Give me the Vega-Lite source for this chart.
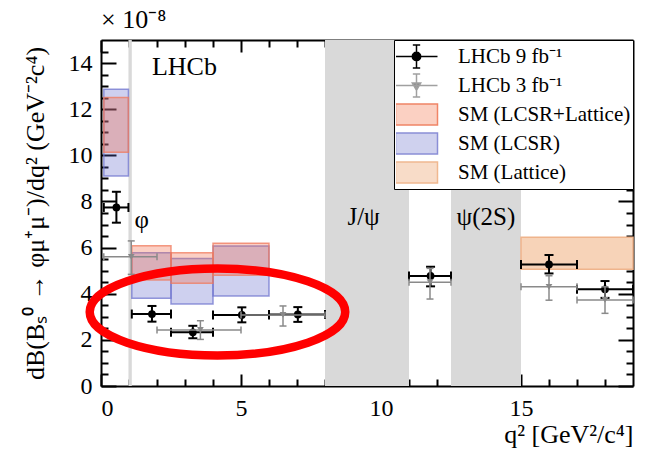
{
  "$schema": "https://vega.github.io/schema/vega-lite/v6.json",
  "width": 532,
  "height": 346,
  "autosize": {"type": "none"},
  "padding": {"left": 101, "top": 40, "right": 13, "bottom": 76},
  "background": "white",
  "title": {"text": "× 10⁻⁸", "anchor": "start", "frame": "group", "fontSize": 26, "font": "Liberation Serif", "fontWeight": "normal", "color": "black", "offset": 6},
  "config": {
    "view": {"stroke": null},
    "font": "Liberation Serif",
    "axis": {"grid": false, "zindex": 1, "labelFont": "Liberation Serif", "titleFont": "Liberation Serif", "labelFontSize": 24, "titleFontSize": 26, "titleFontWeight": "normal", "labelColor": "black", "titleColor": "black", "tickColor": "black", "domainColor": "black", "domainWidth": 2, "tickWidth": 2},
    "legend": {"orient": "top-right", "offset": 0, "padding": 2, "strokeColor": "black", "fillColor": "white", "labelFont": "Liberation Serif", "labelFontSize": 21, "labelColor": "black", "symbolSize": 441, "symbolStrokeWidth": 1.5, "symbolOffset": 9, "labelOffset": 30, "rowPadding": 0, "clipHeight": 29, "labelLimit": 300}
  },
  "datasets": {
    "veto": [{"lo": 0.98, "hi": 1.1}, {"lo": 8.0, "hi": 11.0}, {"lo": 12.5, "hi": 15.0}],
    "lcsr": [
      {"lo": 0.1, "hi": 0.98, "ylo": 9.1, "yhi": 12.86},
      {"lo": 1.1, "hi": 2.5, "ylo": 3.8, "yhi": 5.78},
      {"lo": 2.5, "hi": 4.0, "ylo": 3.55, "yhi": 5.53},
      {"lo": 4.0, "hi": 6.0, "ylo": 3.9, "yhi": 6.07}
    ],
    "combined": [
      {"lo": 0.1, "hi": 0.98, "ylo": 10.13, "yhi": 12.51},
      {"lo": 1.1, "hi": 2.5, "ylo": 4.6, "yhi": 6.08},
      {"lo": 2.5, "hi": 4.0, "ylo": 4.45, "yhi": 5.78},
      {"lo": 4.0, "hi": 6.0, "ylo": 4.8, "yhi": 6.19}
    ],
    "lattice": [{"lo": 15.0, "hi": 19.0, "ylo": 5.06, "yhi": 6.45}],
    "lhcb9": [
      {"lo": 0.1, "hi": 0.98, "x": 0.55, "y": 7.74, "ylo": 7.08, "yhi": 8.42},
      {"lo": 1.1, "hi": 2.5, "x": 1.82, "y": 3.12, "ylo": 2.79, "yhi": 3.47},
      {"lo": 2.5, "hi": 4.0, "x": 3.28, "y": 2.33, "ylo": 2.07, "yhi": 2.61},
      {"lo": 4.0, "hi": 6.0, "x": 5.03, "y": 3.08, "ylo": 2.76, "yhi": 3.41},
      {"lo": 6.0, "hi": 8.0, "x": 7.03, "y": 3.1, "ylo": 2.78, "yhi": 3.42},
      {"lo": 11.0, "hi": 12.5, "x": 11.77, "y": 4.77, "ylo": 4.32, "yhi": 5.17},
      {"lo": 15.0, "hi": 17.0, "x": 16.0, "y": 5.27, "ylo": 4.88, "yhi": 5.68},
      {"lo": 17.0, "hi": 19.0, "x": 18.0, "y": 4.19, "ylo": 3.82, "yhi": 4.55}
    ],
    "lhcb3": [
      {"lo": 0.1, "hi": 2.0, "x": 1.08, "y": 5.6, "ylo": 4.84, "yhi": 6.29},
      {"lo": 2.0, "hi": 5.0, "x": 3.55, "y": 2.43, "ylo": 2.02, "yhi": 2.83},
      {"lo": 5.0, "hi": 8.0, "x": 6.5, "y": 3.08, "ylo": 2.6, "yhi": 3.47},
      {"lo": 11.0, "hi": 12.5, "x": 11.75, "y": 4.5, "ylo": 3.77, "yhi": 5.1},
      {"lo": 15.0, "hi": 17.0, "x": 16.0, "y": 4.3, "ylo": 3.72, "yhi": 4.78},
      {"lo": 17.0, "hi": 19.0, "x": 18.0, "y": 3.73, "ylo": 3.15, "yhi": 4.3}
    ],
    "experiment": [{"x": 1.82, "y": 13.5, "text": "LHCb"}],
    "resonances": [
      {"x": 1.2, "y": 6.85, "text": "φ"},
      {"x": 8.8, "y": 6.98, "text": "J/ψ"},
      {"x": 12.7, "y": 6.98, "text": "ψ(2S)"}
    ],
    "annotation": [{"x": 4.16, "y": 3.21}],
    "legendkeys": [
      {"series": "LHCb 9 fb⁻¹"},
      {"series": "LHCb 3 fb⁻¹"},
      {"series": "SM (LCSR+Lattice)"},
      {"series": "SM (LCSR)"},
      {"series": "SM (Lattice)"}
    ]
  },
  "resolve": {"axis": {"x": "independent", "y": "independent"}},
  "layer": [
    {
      "data": {"name": "veto"},
      "mark": {"type": "rect", "color": "#d9d9d9"},
      "encoding": {
        "x": {"field": "lo", "type": "quantitative", "scale": {"domain": [0, 19], "nice": false, "zero": false},
          "axis": {"orient": "bottom", "values": [0, 5, 10, 15], "tickSize": -12, "labelPadding": 22, "format": "d", "title": "q² [GeV²/c⁴]", "titleAnchor": "end", "titlePadding": 1, "domain": true}},
        "x2": {"field": "hi"},
        "y": {"datum": 0, "type": "quantitative", "scale": {"domain": [0, 15], "nice": false, "zero": false},
          "axis": {"orient": "left", "values": [0, 2, 4, 6, 8, 10, 12, 14], "tickSize": -15, "labelPadding": 24, "format": "d", "title": "dB(Bₛ⁰ → φμ⁺μ⁻)/dq² (GeV⁻²c⁴)", "titlePadding": 20, "domain": true}},
        "y2": {"datum": 15}
      }
    },
    {
      "data": {"name": "lcsr"},
      "mark": {"type": "rect", "fill": "#5c63c9", "fillOpacity": 0.3, "stroke": "#7075cf", "strokeOpacity": 0.75, "strokeWidth": 1.5},
      "encoding": {
        "x": {"field": "lo", "type": "quantitative", "scale": {"domain": [0, 19], "nice": false, "zero": false},
          "axis": {"orient": "bottom", "values": [1, 2, 3, 4, 6, 7, 8, 9, 11, 12, 13, 14, 16, 17, 18], "tickSize": -7, "labels": false, "domain": false, "title": null}},
        "x2": {"field": "hi"},
        "y": {"field": "ylo", "type": "quantitative", "scale": {"domain": [0, 15], "nice": false, "zero": false},
          "axis": {"orient": "left", "values": [0.5, 1, 1.5, 2.5, 3, 3.5, 4.5, 5, 5.5, 6.5, 7, 7.5, 8.5, 9, 9.5, 10.5, 11, 11.5, 12.5, 13, 13.5, 14.5], "tickSize": -7, "labels": false, "domain": false, "title": null}},
        "y2": {"field": "yhi"}
      }
    },
    {
      "data": {"name": "combined"},
      "mark": {"type": "rect", "fill": "#f26a46", "fillOpacity": 0.32, "stroke": "#f07a5c", "strokeOpacity": 0.75, "strokeWidth": 1.5},
      "encoding": {
        "x": {"field": "lo", "type": "quantitative", "scale": {"domain": [0, 19], "nice": false, "zero": false},
          "axis": {"orient": "top", "values": [0, 5, 10, 15], "tickSize": -12, "labels": false, "domain": true, "title": null}},
        "x2": {"field": "hi"},
        "y": {"field": "ylo", "type": "quantitative", "scale": {"domain": [0, 15], "nice": false, "zero": false},
          "axis": {"orient": "right", "values": [0, 2, 4, 6, 8, 10, 12, 14], "tickSize": -15, "labels": false, "domain": true, "title": null}},
        "y2": {"field": "yhi"}
      }
    },
    {
      "data": {"name": "lattice"},
      "mark": {"type": "rect", "fill": "#f7d3b8", "stroke": "#efb48c", "strokeWidth": 1.5},
      "encoding": {
        "x": {"field": "lo", "type": "quantitative", "scale": {"domain": [0, 19], "nice": false, "zero": false},
          "axis": {"orient": "top", "values": [1, 2, 3, 4, 6, 7, 8, 9, 11, 12, 13, 14, 16, 17, 18], "tickSize": -7, "labels": false, "domain": false, "title": null}},
        "x2": {"field": "hi"},
        "y": {"field": "ylo", "type": "quantitative", "scale": {"domain": [0, 15], "nice": false, "zero": false},
          "axis": {"orient": "right", "values": [0.5, 1, 1.5, 2.5, 3, 3.5, 4.5, 5, 5.5, 6.5, 7, 7.5, 8.5, 9, 9.5, 10.5, 11, 11.5, 12.5, 13, 13.5, 14.5], "tickSize": -7, "labels": false, "domain": false, "title": null}},
        "y2": {"field": "yhi"}
      }
    },
    {
      "data": {"name": "lhcb9"},
      "mark": {"type": "rule", "color": "black", "strokeWidth": 2},
      "encoding": {
        "x": {"field": "lo", "type": "quantitative", "axis": null},
        "x2": {"field": "hi"},
        "y": {"field": "y", "type": "quantitative", "axis": null}
      }
    },
    {
      "data": {"name": "lhcb9"},
      "mark": {"type": "rule", "color": "black", "strokeWidth": 2},
      "encoding": {
        "x": {"field": "x", "type": "quantitative", "axis": null},
        "y": {"field": "ylo", "type": "quantitative", "axis": null},
        "y2": {"field": "yhi"}
      }
    },
    {
      "data": {"name": "lhcb9"},
      "mark": {"type": "tick", "orient": "vertical", "color": "black", "size": 9, "thickness": 2, "opacity": 1},
      "encoding": {"x": {"field": "lo", "type": "quantitative", "axis": null}, "y": {"field": "y", "type": "quantitative", "axis": null}}
    },
    {
      "data": {"name": "lhcb9"},
      "mark": {"type": "tick", "orient": "vertical", "color": "black", "size": 9, "thickness": 2, "opacity": 1},
      "encoding": {"x": {"field": "hi", "type": "quantitative", "axis": null}, "y": {"field": "y", "type": "quantitative", "axis": null}}
    },
    {
      "data": {"name": "lhcb9"},
      "mark": {"type": "tick", "orient": "horizontal", "color": "black", "size": 9, "thickness": 2, "opacity": 1},
      "encoding": {"x": {"field": "x", "type": "quantitative", "axis": null}, "y": {"field": "ylo", "type": "quantitative", "axis": null}}
    },
    {
      "data": {"name": "lhcb9"},
      "mark": {"type": "tick", "orient": "horizontal", "color": "black", "size": 9, "thickness": 2, "opacity": 1},
      "encoding": {"x": {"field": "x", "type": "quantitative", "axis": null}, "y": {"field": "yhi", "type": "quantitative", "axis": null}}
    },
    {
      "data": {"name": "lhcb9"},
      "mark": {"type": "point", "shape": "circle", "filled": true, "color": "black", "size": 60, "opacity": 1},
      "encoding": {"x": {"field": "x", "type": "quantitative", "axis": null}, "y": {"field": "y", "type": "quantitative", "axis": null}}
    },
    {
      "data": {"name": "lhcb3"},
      "mark": {"type": "rule", "color": "#8a8a8a", "strokeWidth": 1.5},
      "encoding": {
        "x": {"field": "lo", "type": "quantitative", "axis": null},
        "x2": {"field": "hi"},
        "y": {"field": "y", "type": "quantitative", "axis": null}
      }
    },
    {
      "data": {"name": "lhcb3"},
      "mark": {"type": "rule", "color": "#8a8a8a", "strokeWidth": 1.5},
      "encoding": {
        "x": {"field": "x", "type": "quantitative", "axis": null},
        "y": {"field": "ylo", "type": "quantitative", "axis": null},
        "y2": {"field": "yhi"}
      }
    },
    {
      "data": {"name": "lhcb3"},
      "mark": {"type": "tick", "orient": "vertical", "color": "#8a8a8a", "size": 7, "thickness": 1.5, "opacity": 1},
      "encoding": {"x": {"field": "lo", "type": "quantitative", "axis": null}, "y": {"field": "y", "type": "quantitative", "axis": null}}
    },
    {
      "data": {"name": "lhcb3"},
      "mark": {"type": "tick", "orient": "vertical", "color": "#8a8a8a", "size": 7, "thickness": 1.5, "opacity": 1},
      "encoding": {"x": {"field": "hi", "type": "quantitative", "axis": null}, "y": {"field": "y", "type": "quantitative", "axis": null}}
    },
    {
      "data": {"name": "lhcb3"},
      "mark": {"type": "tick", "orient": "horizontal", "color": "#8a8a8a", "size": 7, "thickness": 1.5, "opacity": 1},
      "encoding": {"x": {"field": "x", "type": "quantitative", "axis": null}, "y": {"field": "ylo", "type": "quantitative", "axis": null}}
    },
    {
      "data": {"name": "lhcb3"},
      "mark": {"type": "tick", "orient": "horizontal", "color": "#8a8a8a", "size": 7, "thickness": 1.5, "opacity": 1},
      "encoding": {"x": {"field": "x", "type": "quantitative", "axis": null}, "y": {"field": "yhi", "type": "quantitative", "axis": null}}
    },
    {
      "data": {"name": "lhcb3"},
      "mark": {"type": "point", "shape": "triangle-down", "filled": true, "color": "#8a8a8a", "size": 45, "opacity": 1},
      "encoding": {"x": {"field": "x", "type": "quantitative", "axis": null}, "y": {"field": "y", "type": "quantitative", "axis": null}}
    },
    {
      "data": {"name": "experiment"},
      "mark": {"type": "text", "align": "left", "baseline": "alphabetic", "font": "Liberation Serif", "fontSize": 26, "color": "black"},
      "encoding": {"x": {"field": "x", "type": "quantitative", "axis": null}, "y": {"field": "y", "type": "quantitative", "axis": null}, "text": {"field": "text"}}
    },
    {
      "data": {"name": "resonances"},
      "mark": {"type": "text", "align": "left", "baseline": "alphabetic", "font": "Liberation Serif", "fontSize": 25, "color": "black"},
      "encoding": {"x": {"field": "x", "type": "quantitative", "axis": null}, "y": {"field": "y", "type": "quantitative", "axis": null}, "text": {"field": "text"}}
    },
    {
      "data": {"name": "annotation"},
      "mark": {"type": "point", "shape": "M -1 0 C -1 -0.1877 -0.5523 -0.34 0 -0.34 C 0.5523 -0.34 1 -0.1877 1 0 C 1 0.1877 0.5523 0.34 0 0.34 C -0.5523 0.34 -1 0.1877 -1 0 Z", "size": 65300, "filled": false, "stroke": "#ff0000", "strokeWidth": 8.5, "opacity": 1},
      "encoding": {"x": {"field": "x", "type": "quantitative", "axis": null}, "y": {"field": "y", "type": "quantitative", "axis": null}}
    },
    {
      "data": {"name": "legendkeys"},
      "mark": {"type": "point", "filled": true, "opacity": 0},
      "encoding": {
        "fill": {"field": "series", "type": "nominal",
          "scale": {"domain": ["LHCb 9 fb⁻¹", "LHCb 3 fb⁻¹", "SM (LCSR+Lattice)", "SM (LCSR)", "SM (Lattice)"], "range": ["#000000", "#8a8a8a", "#fbd0c2", "#cfd1ee", "#f8dcc8"]},
          "legend": {"title": null, "encode": {"symbols": {"update": {"opacity": {"value": 1}}}}}},
        "stroke": {"field": "series", "type": "nominal",
          "scale": {"domain": ["LHCb 9 fb⁻¹", "LHCb 3 fb⁻¹", "SM (LCSR+Lattice)", "SM (LCSR)", "SM (Lattice)"], "range": ["#000000", "#a0a0a0", "#f08466", "#8a8ed6", "#f0b890"]},
          "legend": {"title": null}},
        "shape": {"field": "series", "type": "nominal",
          "scale": {"domain": ["LHCb 9 fb⁻¹", "LHCb 3 fb⁻¹", "SM (LCSR+Lattice)", "SM (LCSR)", "SM (Lattice)"], "range": [
            "M -2 0 L 2 0 M 0 -1.1 L 0 1.1 M -0.35 -1.1 L 0.35 -1.1 M -0.35 1.1 L 0.35 1.1 M -0.4 0 C -0.4 -0.22 -0.22 -0.4 0 -0.4 C 0.22 -0.4 0.4 -0.22 0.4 0 C 0.4 0.22 0.22 0.4 0 0.4 C -0.22 0.4 -0.4 0.22 -0.4 0 Z",
            "M -2 0 L 2 0 M 0 -1.1 L 0 1.1 M -0.35 -1.1 L 0.35 -1.1 M -0.35 1.1 L 0.35 1.1 M -0.4 -0.25 L 0.4 -0.25 L 0 0.45 Z",
            "M -2 -1 L 2 -1 L 2 1 L -2 1 Z",
            "M -2 -1 L 2 -1 L 2 1 L -2 1 Z",
            "M -2 -1 L 2 -1 L 2 1 L -2 1 Z"]},
          "legend": {"title": null}}
      }
    }
  ]
}
